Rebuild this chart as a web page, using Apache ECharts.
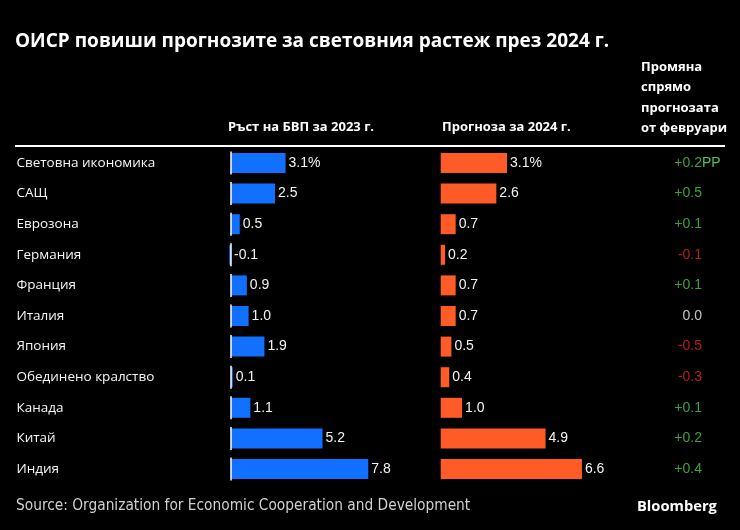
<!DOCTYPE html>
<html><head><meta charset="utf-8">
<script src="https://cdn.jsdelivr.net/npm/echarts@6/dist/echarts.min.js"></script>
<style>html,body{margin:0;background:#000}#c{width:740px;height:530px}</style>
</head><body><div id="c"></div>
<script>
const categories = ['Световна икономика','САЩ','Еврозона','Германия','Франция','Италия','Япония','Обединено кралство','Канада','Китай','Индия'];
const gdp2023 = [3.1, 2.5, 0.5, -0.1, 0.9, 1.0, 1.9, 0.1, 1.1, 5.2, 7.8];
const forecast2024 = [3.1, 2.6, 0.7, 0.2, 0.7, 0.7, 0.5, 0.4, 1.0, 4.9, 6.6];
const changeVsFeb = [0.2, 0.5, 0.1, -0.1, 0.1, 0.0, -0.5, -0.3, 0.1, 0.2, 0.4];

const BLUE = '#1170ff', ORANGE = '#ff5b26', GREEN = '#4fc653', RED = '#e3222a';
const valFont = {fontFamily: 'Liberation Sans, Arial, sans-serif', fontSize: 14, color: '#f2f2f2'};
const fmtVal = (v, i) => v.toFixed(1) + (i === 0 ? '%' : '');
const fmtChg = v => (v > 0 ? '+' : '') + v.toFixed(1);

const gTop = 147.7, gBottom = 45.7;
const chart = echarts.init(document.getElementById('c'));
chart.setOption({
  backgroundColor: '#000',
  animation: false,
  grid: [
    {left: 213.4, width: 176, top: gTop, bottom: gBottom},
    {left: 440.7, width: 171.2, top: gTop, bottom: gBottom},
    {left: 702, width: 10, top: gTop, bottom: gBottom}
  ],
  xAxis: [
    {gridIndex: 0, type: 'value', min: -1, max: 9, show: false},
    {gridIndex: 1, type: 'value', min: 0, max: 8, show: false},
    {gridIndex: 2, type: 'value', min: 0, max: 1, show: false}
  ],
  yAxis: [
    {gridIndex: 0, type: 'category', data: categories, inverse: true,
     axisLine: {show: false}, axisTick: {show: false},
     axisLabel: {align: 'left', margin: 197, color: '#f5f5f5', fontFamily: 'Open Sans, Noto Sans, sans-serif', fontSize: 13.5, padding: [0, 0, 10, 0]}},
    {gridIndex: 1, type: 'category', data: categories, inverse: true, show: false},
    {gridIndex: 2, type: 'category', data: categories, inverse: true,
     axisLine: {show: false}, axisTick: {show: false},
     axisLabel: {margin: 0, align: 'left', color: GREEN, fontFamily: 'Liberation Sans, Arial', fontSize: 14,
       formatter: (val, i) => (i === 0 ? 'PP' : '')}}
  ],
  series: [
    {type: 'bar', xAxisIndex: 0, yAxisIndex: 0, data: gdp2023, barWidth: 20,
     itemStyle: {color: BLUE},
     label: {show: true, position: 'right', distance: 3, ...valFont, formatter: p => fmtVal(p.value, p.dataIndex)}},
    {type: 'custom', xAxisIndex: 0, yAxisIndex: 0, z: 5,
     data: gdp2023.map((v, i) => [0, i]),
     renderItem: (params, api) => {
       const p = api.coord([0, api.value(1)]);
       return {type: 'line', shape: {x1: p[0], y1: p[1] - 11.5, x2: p[0], y2: p[1] + 11.5},
               style: {stroke: '#ffffff', lineWidth: 1.5}};
     }},
    {type: 'bar', xAxisIndex: 1, yAxisIndex: 1, data: forecast2024, barWidth: 20,
     itemStyle: {color: ORANGE},
     label: {show: true, position: 'right', distance: 3, ...valFont, formatter: p => fmtVal(p.value, p.dataIndex)}},
    {type: 'scatter', xAxisIndex: 2, yAxisIndex: 2, symbolSize: 0,
     data: changeVsFeb.map((v, i) => [0, i]),
     label: {show: true, position: 'left', distance: 0, fontFamily: 'Liberation Sans, Arial', fontSize: 14,
       formatter: p => {
         const v = changeVsFeb[p.dataIndex];
         return '{' + (v > 0 ? 'g' : (v < 0 ? 'r' : 'w')) + '|' + fmtChg(v) + '}';
       },
       rich: {g: {color: GREEN}, r: {color: RED}, w: {color: '#f2f2f2'}}}}
  ],
  graphic: [
    {type: 'text', left: 15, top: 32, style: {text: 'ОИСР повиши прогнозите за световния растеж през 2024 г.', fill: '#fff', font: 'bold 19px "Open Sans", "Noto Sans", sans-serif'}},
    {type: 'text', left: 228, top: 121, style: {text: 'Ръст на БВП за 2023 г.', fill: '#fff', font: 'bold 13px "Open Sans", "Noto Sans", sans-serif'}},
    {type: 'text', left: 442, top: 121, style: {text: 'Прогноза за 2024 г.', fill: '#fff', font: 'bold 13px "Open Sans", "Noto Sans", sans-serif'}},
    {type: 'text', left: 641, top: 57, style: {text: 'Промяна\nспрямо\nпрогнозата\nот февруари', fill: '#fff', lineHeight: 20.5, font: 'bold 13px "Open Sans", "Noto Sans", sans-serif'}},
    {type: 'line', shape: {x1: 15, y1: 146, x2: 725, y2: 146}, style: {stroke: '#fff', lineWidth: 2}},
    {type: 'text', left: 16, top: 499, style: {text: 'Source: Organization for Economic Cooperation and Development', fill: '#d0d0d0', font: '15.3px "Liberation Sans Narrow", "DejaVu Sans Condensed", sans-serif'}},
    {type: 'text', left: 637, top: 499, style: {text: 'Bloomberg', fill: '#fff', font: 'bold 14.7px "Open Sans", "Noto Sans", sans-serif'}}
  ]
});
</script></body></html>
